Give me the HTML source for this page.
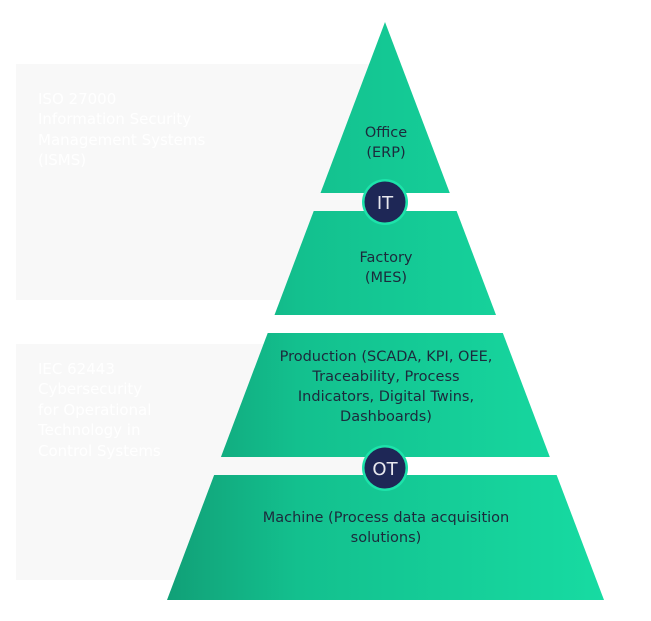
<!DOCTYPE html>
<html><head><style>
body{margin:0;background:#fff;}
svg{display:block;font-family:"DejaVu Sans","Liberation Sans",sans-serif;}
</style></head><body>
<svg width="651" height="621" viewBox="0 0 651 621" xmlns="http://www.w3.org/2000/svg">
<defs>
<linearGradient id="g" x1="167" y1="0" x2="603" y2="0" gradientUnits="userSpaceOnUse">
<stop offset="0" stop-color="#11a077"/>
<stop offset="0.3" stop-color="#13c08e"/>
<stop offset="1" stop-color="#17dba2"/>
</linearGradient>
<clipPath id="c">
<rect x="0" y="0" width="651" height="193"/>
<rect x="0" y="211" width="651" height="104"/>
<rect x="0" y="333" width="651" height="124"/>
<rect x="0" y="475" width="651" height="125"/>
</clipPath>
</defs>
<rect x="16" y="64" width="356" height="236" fill="#f8f8f8"/>
<rect x="16" y="344" width="356" height="236" fill="#f8f8f8"/>
<g fill="#ffffff" font-size="15">
<text x="38" y="104">ISO 27000</text>
<text x="38" y="124">Information Security</text>
<text x="38" y="145">Management Systems</text>
<text x="38" y="165">(ISMS)</text>
<text x="38" y="374">IEC 62443</text>
<text x="38" y="394">Cybersecurity</text>
<text x="38" y="415">for Operational</text>
<text x="38" y="435">Technology in</text>
<text x="38" y="456">Control Systems</text>
</g>
<polygon points="385,22 604,600 167,600" fill="url(#g)" clip-path="url(#c)"/>
<g fill="#1c2a3c" font-size="14.5" text-anchor="middle">
<text x="386" y="137">Office</text>
<text x="386" y="157">(ERP)</text>
<text x="386" y="262">Factory</text>
<text x="386" y="282">(MES)</text>
<text x="386" y="361">Production (SCADA, KPI, OEE,</text>
<text x="386" y="381">Traceability, Process</text>
<text x="386" y="401">Indicators, Digital Twins,</text>
<text x="386" y="421">Dashboards)</text>
<text x="386" y="522">Machine (Process data acquisition</text>
<text x="386" y="542">solutions)</text>
</g>
<circle cx="385" cy="202" r="23" fill="#1de3aa"/>
<circle cx="385" cy="202" r="20.5" fill="#1e2756"/>
<text x="385" y="209" fill="#e8e8ee" font-size="18" text-anchor="middle">IT</text>
<circle cx="385" cy="468" r="23" fill="#1de3aa"/>
<circle cx="385" cy="468" r="20.5" fill="#1e2756"/>
<text x="385" y="475" fill="#e8e8ee" font-size="18" text-anchor="middle">OT</text>
</svg>
</body></html>
